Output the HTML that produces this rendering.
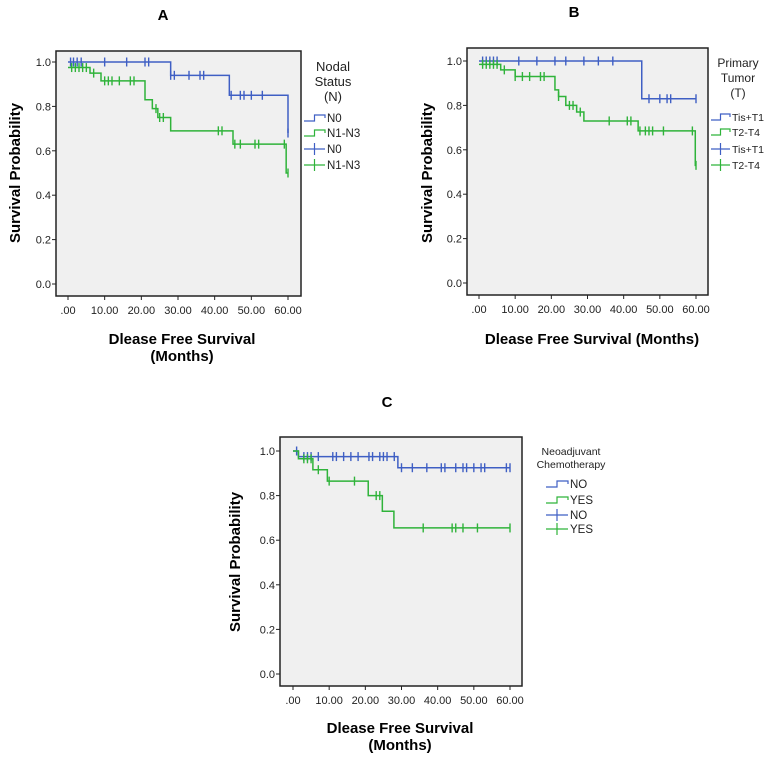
<!DOCTYPE html>
<html><head><meta charset="utf-8"><style>
body{margin:0;background:#fff;width:769px;height:757px;overflow:hidden;font-family:"Liberation Sans",sans-serif}
svg{display:block}
</style></head><body>
<svg id="s" width="769" height="757" viewBox="0 0 769 757"></svg>
<script>
// ---- Panel A data (Nodal status) ----
const aN0Times=[0,28,44,60];
const aN0Surv=[1.0,0.94,0.85,0.68];
const aN0Cens=[0.7,1.5,2.5,3.6,10,16,21,22,28,29,33,36,37,44.5,47,48,50,53,60];
const aN1Times=[0,6,9,21,23,24.5,28,45,59.5];
const aN1Surv=[0.975,0.95,0.915,0.83,0.79,0.75,0.69,0.63,0.5];
const aN1Cens=[1,2,3,4,5,7,10,11,12,14,17,18,24,25,26,41,42,45.5,47,51,52,59,60];
// ---- Panel B data (Primary tumor) ----
const bT1Times=[0,45];
const bT1Surv=[1.0,0.83];
const bT1Cens=[1,2,3,4,5,11,16,21,24,29,33,37,47,50,52,53,60];
const bT2Times=[0,6,10,21,22,24,27,29,44,59.8];
const bT2Surv=[0.985,0.96,0.93,0.87,0.84,0.80,0.77,0.73,0.685,0.53];
const bT2Cens=[1,2,3,4,5,7,10,12,14,17,18,22,25,26,28,36,41,42,44.5,46,47,48,51,59,60];
// ---- Panel C data (Neoadjuvant chemo) ----
const cNoTimes=[0,1.5,29];
const cNoSurv=[1.0,0.975,0.925];
const cNoCens=[1,3,4,5,7,11,12,14,16,18,21,22,24,25,26,28,30,33,37,41,42,45,47,48,50,52,53,59,60];
const cYesTimes=[0,1.5,5.5,9.5,20.8,24.7,27.9];
const cYesSurv=[1.0,0.965,0.916,0.865,0.80,0.73,0.655];
const cYesCens=[3,4,5,7,10,17,23,24,36,44,45,47,51,60];
// ---- shared axis ticks ----
const yTicks=[0,0.2,0.4,0.6,0.8,1.0];
const yTickLabels=["0.0","0.2","0.4","0.6","0.8","1.0"];
const xTicks=[0,10,20,30,40,50,60];
const xTickLabels=[".00","10.00","20.00","30.00","40.00","50.00","60.00"];

const BLUE="#3f5fc4",GREEN="#2fb33a";
const S=document.getElementById('s');
const NS="http://www.w3.org/2000/svg";
function el(tag,attrs,parent){const e=document.createElementNS(NS,tag);for(const k in attrs)e.setAttribute(k,attrs[k]);(parent||S).appendChild(e);return e;}
function txt(x,y,s,attrs,parent){const t=el('text',Object.assign({x:x,y:y},attrs),parent);t.textContent=s;return t;}

function panel(P){
  const g=el('g',{});
  
  
  const sx=v=>P.x0+(v/60)*(P.x60-P.x0);
  const Y=v=>P.yZero+(P.yOne-P.yZero)*v;
  const t=txt(P.titleX,P.titleY,P.id.toUpperCase(),{'font-size':15,'font-weight':'bold','text-anchor':'middle'},g);
  
  const bg=el('rect',{x:P.bx0,y:P.by0,width:P.bx1-P.bx0,height:P.by1-P.by0,fill:'#f0f0f0',stroke:'#222','stroke-width':1.5},g);
  
  yTicks.forEach((v,i)=>{
    el('line',{x1:P.bx0-4,x2:P.bx0,y1:Y(v),y2:Y(v),stroke:'#222'},g);
    const l=txt(P.bx0-5,Y(v)+4,yTickLabels[i],{'font-size':11,'text-anchor':'end',fill:'#222'},g);
    
  });
  xTicks.forEach((v,i)=>{
    el('line',{x1:sx(v),x2:sx(v),y1:P.by1,y2:P.by1+4,stroke:'#222'},g);
    const l=txt(sx(v),P.by1+18,xTickLabels[i],{'font-size':11,'text-anchor':'middle',fill:'#222'},g);
    
  });
  const yt=txt(0,0,'Survival Probability',{'font-size':15,'font-weight':'bold','text-anchor':'middle',transform:`translate(${P.ytX},${P.ytY}) rotate(-90)`},g);
  
  P.xTitle.forEach((s,i)=>{
    const xt=txt(P.xtX,P.xtY+i*17,s,{'font-size':15,'font-weight':'bold','text-anchor':'middle'},g);
    
  });
  P.series.forEach(se=>{
    const tm=se.times,sv=se.surv;
    let d=`M${sx(tm[0])},${Y(sv[0])}`;
    for(let i=1;i<tm.length;i++){d+=` H${sx(tm[i])} V${Y(sv[i])}`;}
    d+=` H${sx(60)}`;
    const p=el('path',{d:d,fill:'none',stroke:se.color,'stroke-width':1.5},g);
    
    se.cens.forEach(c=>{
      let v=sv[0];for(let i=0;i<tm.length;i++){if(c>=tm[i])v=sv[i];}
      const m=el('path',{d:`M${sx(c)},${Y(v)-4.5}V${Y(v)+4.5}`,stroke:se.color,'stroke-width':1.4},g);
      
    });
  });
  P.legTitle.forEach((s,i)=>{
    const l=txt(P.legTX,P.legTY+i*P.legTStep,s,{'font-size':P.legTFont,'text-anchor':'middle',fill:'#222'},g);
    
  });
  P.legend.forEach((e,i)=>{
    const y=P.legY[i];
    const lg=el('g',{},g);
    
    if(e.step) el('path',{d:`M${P.legX0},${y+3}H${(P.legX0+P.legX1)/2}V${y-3}H${P.legX1}V${y}`,fill:'none',stroke:e.color,'stroke-width':1.2},lg);
    else {el('path',{d:`M${P.legX0},${y}H${P.legX1}M${(P.legX0+P.legX1)/2},${y-6}V${y+6}`,stroke:e.color,'stroke-width':1.2},lg);}
    txt(P.legX1+2,y+4,e.label,{'font-size':P.legFont,fill:'#222'},lg);
  });
}

panel({id:'a',titleX:163,titleY:20,bx0:56,bx1:301,by0:51,by1:296,x0:68,x60:288,yOne:62,yZero:284,
  ytX:20,ytY:173,xTitle:['Dlease Free Survival','(Months)'],xtX:182,xtY:344,
  legTitle:['Nodal','Status','(N)'],legTX:333,legTY:71,legTStep:15,legTFont:13,legFont:11.5,
  legX0:304,legX1:325,legY:[118,133,149,165],
  legend:[{step:1,color:BLUE,label:'N0'},{step:1,color:GREEN,label:'N1-N3'},{step:0,color:BLUE,label:'N0'},{step:0,color:GREEN,label:'N1-N3'}],
  series:[{name:'n0',color:BLUE,times:aN0Times,surv:aN0Surv,cens:aN0Cens},{name:'n1-n3',color:GREEN,times:aN1Times,surv:aN1Surv,cens:aN1Cens}]});
panel({id:'b',titleX:574,titleY:17,bx0:467,bx1:708,by0:48,by1:295,x0:479,x60:696,yOne:61,yZero:283,
  ytX:432,ytY:173,xTitle:['Dlease Free Survival (Months)'],xtX:592,xtY:344,
  legTitle:['Primary','Tumor','(T)'],legTX:738,legTY:67,legTStep:15,legTFont:12,legFont:10.5,
  legX0:711,legX1:730,legY:[117,132,149,165],
  legend:[{step:1,color:BLUE,label:'Tis+T1'},{step:1,color:GREEN,label:'T2-T4'},{step:0,color:BLUE,label:'Tis+T1'},{step:0,color:GREEN,label:'T2-T4'}],
  series:[{name:'tis-t1',color:BLUE,times:bT1Times,surv:bT1Surv,cens:bT1Cens},{name:'t2-t4',color:GREEN,times:bT2Times,surv:bT2Surv,cens:bT2Cens}]});
panel({id:'c',titleX:387,titleY:407,bx0:280,bx1:522,by0:437,by1:686,x0:293,x60:510,yOne:451,yZero:674,
  ytX:240,ytY:562,xTitle:['Dlease Free Survival','(Months)'],xtX:400,xtY:733,
  legTitle:['Neoadjuvant','Chemotherapy'],legTX:571,legTY:455,legTStep:13,legTFont:10.5,legFont:11.5,
  legX0:546,legX1:568,legY:[484,500,515,529],
  legend:[{step:1,color:BLUE,label:'NO'},{step:1,color:GREEN,label:'YES'},{step:0,color:BLUE,label:'NO'},{step:0,color:GREEN,label:'YES'}],
  series:[{name:'no',color:BLUE,times:cNoTimes,surv:cNoSurv,cens:cNoCens},{name:'yes',color:GREEN,times:cYesTimes,surv:cYesSurv,cens:cYesCens}]});
</script>
</body></html>
